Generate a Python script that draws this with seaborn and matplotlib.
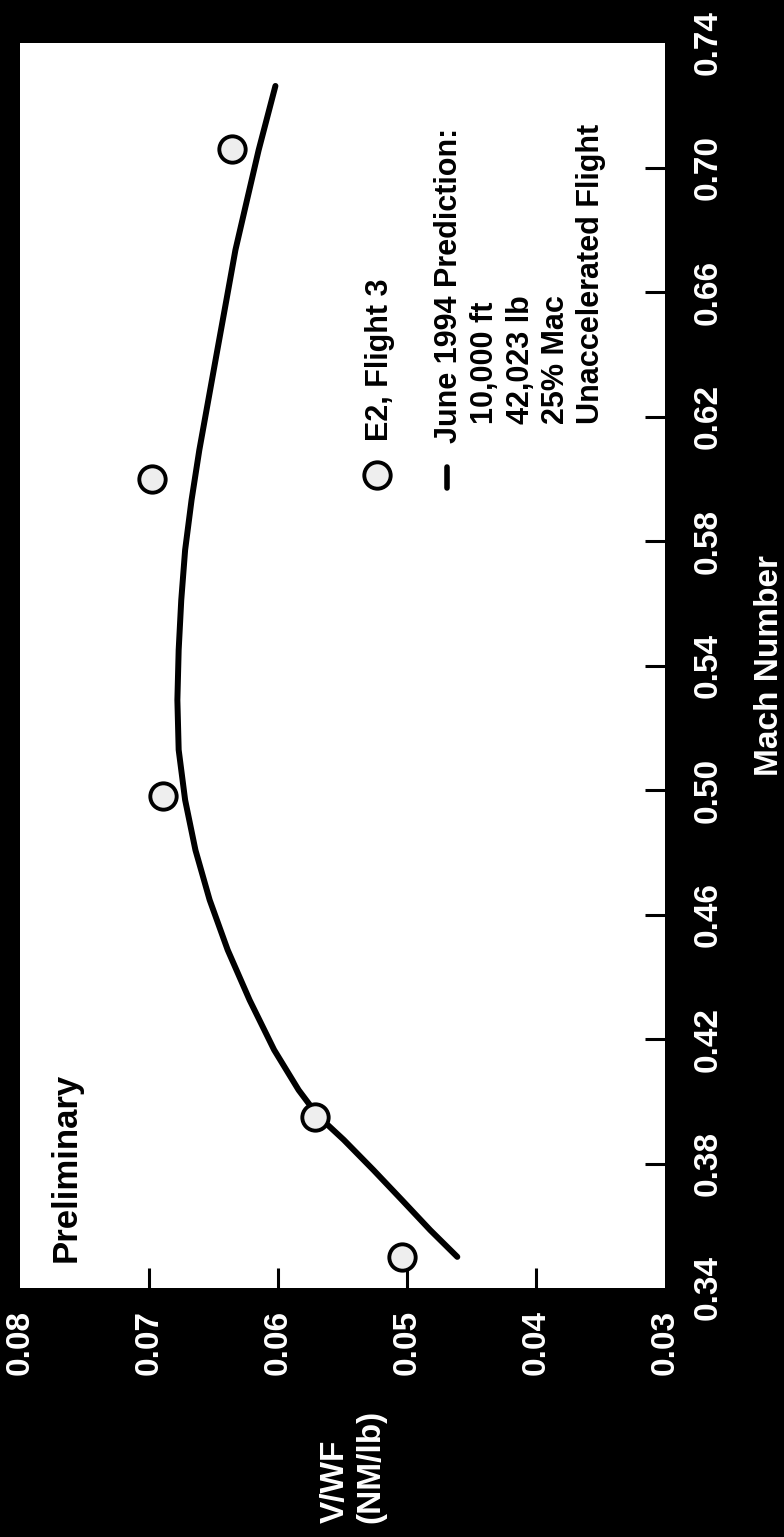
import matplotlib
matplotlib.use("Agg")
import matplotlib.pyplot as plt
import seaborn as sns

# Flight-test points (E2, Flight 3)
mach_flight = [0.350, 0.395, 0.498, 0.600, 0.706]
vwf_flight = [0.0504, 0.0571, 0.0689, 0.0698, 0.0636]

# June 1994 prediction curve
mach_pred = [0.3500, 0.3586, 0.3683, 0.3779, 0.3876, 0.3953, 0.4036, 0.4165,
             0.4325, 0.4486, 0.4647, 0.4807, 0.4968, 0.5129, 0.5289, 0.5450,
             0.5610, 0.5771, 0.5932, 0.6092, 0.6253, 0.6414, 0.6574, 0.6735,
             0.6896, 0.7056, 0.7262]
vwf_pred = [0.0461, 0.0482, 0.0504, 0.0526, 0.0549, 0.0569, 0.0584, 0.0603,
            0.0622, 0.0639, 0.0653, 0.0664, 0.0672, 0.0677, 0.0678, 0.0677,
            0.0675, 0.0672, 0.0667, 0.0661, 0.0654, 0.0647, 0.0640, 0.0633,
            0.0624, 0.0615, 0.0602]

mach_ticks = [0.34, 0.38, 0.42, 0.46, 0.50, 0.54, 0.58, 0.62, 0.66, 0.70, 0.74]
mach_ticklabels = ["0.34", "0.38", "0.42", "0.46", "0.50", "0.54", "0.58",
                   "0.62", "0.66", "0.70", "0.74"]
vwf_ticks = [0.03, 0.04, 0.05, 0.06, 0.07, 0.08]
vwf_ticklabels = ["0.03", "0.04", "0.05", "0.06", "0.07", "0.08"]

series_label = "E2, Flight 3"
pred_title = "June 1994 Prediction:"
pred_details = ["10,000 ft", "42,023 lb", "25% Mac", "Unaccelerated Flight"]

sns.set_theme(style="white")
plt.rcParams["font.family"] = ["Liberation Sans", "DejaVu Sans"]
plt.rcParams["font.weight"] = "bold"

W, H = 784, 1537
fig = plt.figure(figsize=(W / 100, H / 100), dpi=100, facecolor="black")


def fx(px):
    return px / W


def fy(py):
    return 1 - py / H


# the page is laid out sideways: Mach runs up the page, V/WF runs right-to-left
ax = fig.add_axes([fx(20), fy(1288), fx(665) - fx(20), fy(43) - fy(1288)])
ax.set_facecolor("white")
for s in ax.spines.values():
    s.set_visible(False)

sns.lineplot(x=vwf_pred, y=mach_pred, sort=False, estimator=None,
             color="black", linewidth=4.3, ax=ax)
sns.scatterplot(x=vwf_flight, y=mach_flight, s=360, color="#eeeeee",
                edgecolor="black", linewidth=2.8, ax=ax, zorder=3)

ax.set_xlim(0.08, 0.03)
ax.set_ylim(0.34, 0.74)

ax.set_xticks(vwf_ticks)
ax.set_xticklabels(vwf_ticklabels, rotation=90)
ax.yaxis.tick_right()
ax.yaxis.set_label_position("right")
ax.set_yticks(mach_ticks)
ax.set_yticklabels(mach_ticklabels, rotation=90, va="center")

ax.tick_params(axis="both", direction="in", length=14.4, width=2.2,
               color="black", labelcolor="white", labelsize=24)
ax.tick_params(axis="x", pad=16, bottom=True, top=False)
ax.tick_params(axis="y", pad=20, right=True, left=False)
for lab in ax.get_xticklabels() + ax.get_yticklabels():
    lab.set_fontweight("bold")

# no tick marks at the frame corners
xt = ax.xaxis.get_major_ticks()
yt = ax.yaxis.get_major_ticks()
for t in (xt[0], xt[-1], yt[0], yt[-1]):
    t.tick1line.set_visible(False)
    t.tick2line.set_visible(False)

ax.set_xlabel("V/WF\n(NM/lb)", rotation=90, color="white", fontsize=24,
              fontweight="bold", multialignment="left")
ax.xaxis.set_label_coords((353 - 20) / 645, (1288 - 1410) / 1245)
ax.set_ylabel("Mach Number", color="white", fontsize=24, fontweight="bold")
ax.yaxis.set_label_coords((754 - 20) / 645, 0.5)

# annotations inside the frame
fig.text(fx(66), fy(1262), "Preliminary", rotation=90, ha="center", va="bottom",
         fontsize=25, fontweight="bold", color="black")

ax.plot([fx(377)], [fy(475)], marker="o", markersize=19, markerfacecolor="#eeeeee",
        markeredgecolor="black", markeredgewidth=2.8, transform=fig.transFigure,
        clip_on=False)
fig.text(fx(380), fy(441), series_label, rotation=90, ha="center", va="bottom",
         fontsize=22, fontweight="bold", color="black")

ax.plot([fx(447), fx(447)], [fy(488), fy(467)], color="black", linewidth=4.0,
        transform=fig.transFigure, clip_on=False)
fig.text(fx(449), fy(443), pred_title, rotation=90, ha="center", va="bottom",
         fontsize=22, fontweight="bold", color="black")
for i, line in enumerate(pred_details):
    fig.text(fx(485 + 35.5 * i), fy(424), line, rotation=90, ha="center",
             va="bottom", fontsize=22, fontweight="bold", color="black")

fig.savefig("out.png", dpi=100, facecolor="black")
